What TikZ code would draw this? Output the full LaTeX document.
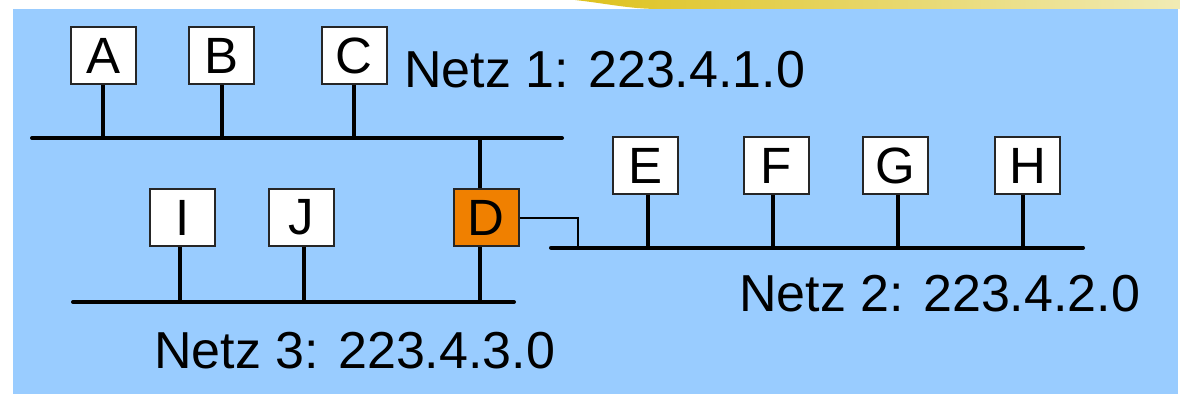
\documentclass[tikz,border=0pt]{standalone}
\usepackage{fontspec}
\setmainfont{Liberation Sans}
\definecolor{netblue}{HTML}{99CCFF}
\definecolor{routerorange}{HTML}{F08000}
\definecolor{goldA}{HTML}{DEC21E}
\definecolor{goldB}{HTML}{F1EBB4}
\begin{document}
\begin{tikzpicture}[x=1pt,y=-1pt,
  host/.style={draw=black!85, line width=2pt, fill=white, minimum width=65pt,
    minimum height=57pt, inner sep=0pt, font=\fontsize{51}{60}\selectfont},
  router/.style={host, fill=routerorange},
  bus/.style={line width=4pt, line cap=round},
  stub/.style={line width=4pt},
  link/.style={line width=2pt},
  netlabel/.style={anchor=base west, inner sep=0pt, font=\fontsize{52}{60}\selectfont}]
\useasboundingbox (0,0) rectangle (1180,394);
% decorative swoosh along the top edge
\shade[left color=goldA, right color=goldB]
  (575,0) .. controls (610,4) and (630,9) .. (660,9) -- (1180,9) -- (1180,0) -- cycle;
% panel
\fill[netblue] (13,9) rectangle (1178,394);

% bus coordinates
\coordinate (b1w) at (32,138);  \coordinate (b1e) at (562,138);
\coordinate (b2w) at (551,247.7); \coordinate (b2e) at (1083,247.7);
\coordinate (b3w) at (73,302);  \coordinate (b3e) at (514,302);
\coordinate (dcorner) at (578,247.7);

% hosts
\node[host] (A) at (103.5,55.5) {A};
\node[host] (B) at (221.5,55.5) {B};
\node[host] (C) at (354,55.5) {C};
\node[host] (E) at (645,165.5) {E};
\node[host] (F) at (776.5,165.5) {F};
\node[host] (G) at (895.5,165.5) {G};
\node[host] (H) at (1027.5,165.5) {H};
\node[host] (I) at (182.5,217.5) {I};
\node[host] (J) at (301.5,217.5) {J};
\node[router] (D) at (486,217.5) {D};

% network buses
\draw[bus] (b1w) -- (b1e);
\draw[bus] (b2w) -- (b2e);
\draw[bus] (b3w) -- (b3e);

% host taps (host / offset of the tap from the box centre)
\foreach \h/\dx in {A/-1,B/0,C/0} \draw[stub] ([xshift=\dx pt]\h.south) -- ([xshift=\dx pt]\h.south |- b1w);
\foreach \h/\dx in {E/3,F/-3.5,G/2.5,H/-4.5} \draw[stub] ([xshift=\dx pt]\h.south) -- ([xshift=\dx pt]\h.south |- b2w);
\foreach \h/\dx in {I/-2.5,J/2.5} \draw[stub] ([xshift=\dx pt]\h.south) -- ([xshift=\dx pt]\h.south |- b3w);
\draw[stub] ([xshift=-6pt]D.north) -- ([xshift=-6pt]D.north |- b1w);
\draw[stub] ([xshift=-6pt]D.south) -- ([xshift=-6pt]D.south |- b3w);
\draw[link] (D.east) -| (dcorner);

% network labels
\node[netlabel] (n1) at (404,87) {Netz 1: 223.4.1.0};
\node[netlabel] (n2) at (739,311) {Netz 2: 223.4.2.0};
\node[netlabel] (n3) at (154,368) {Netz 3: 223.4.3.0};
\end{tikzpicture}
\end{document}
